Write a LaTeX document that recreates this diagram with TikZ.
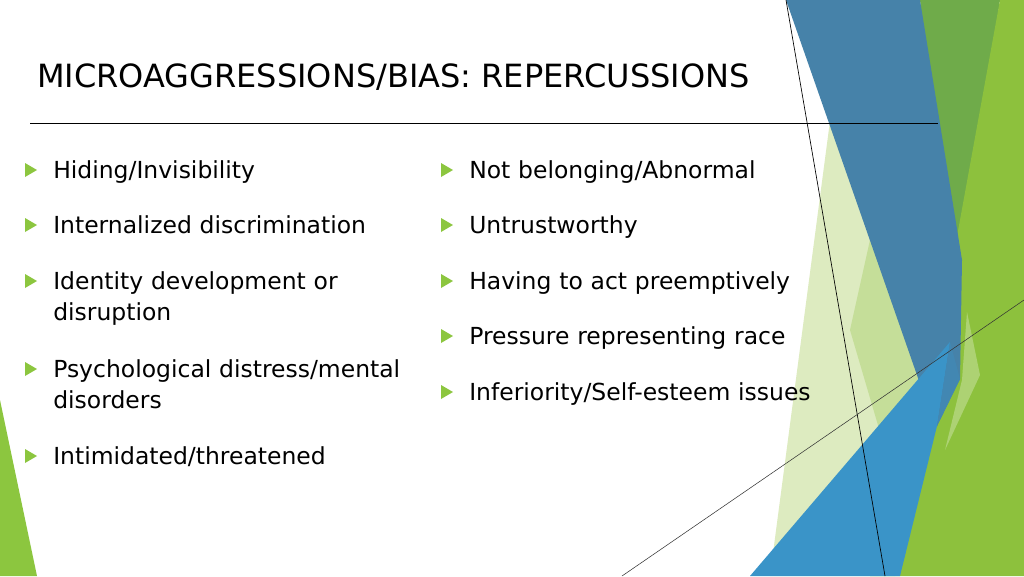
\documentclass[tikz,border=0pt]{standalone}
\usepackage{fontspec}
\setmainfont{DejaVu Sans}
\begin{document}
\begin{tikzpicture}[x=0.75pt,y=-0.75pt,
  item/.style={anchor=north west,inner sep=0pt,font=\fontsize{17.6}{23.5}\selectfont,align=left,text width=300pt},
  bul/.style={fill=bulgreen,draw=none}]
\definecolor{bulgreen}{HTML}{8CC63F}
\definecolor{dblue}{HTML}{4682A9}
\definecolor{lblue}{HTML}{3A94C8}
\definecolor{mgreen}{HTML}{6FAB4A}
\definecolor{bgreen}{HTML}{8DC13D}
\definecolor{pgreen}{HTML}{DDEBC0}
\useasboundingbox (0,0) rectangle (1024,576);
\fill[white] (0,0) rectangle (1024,576);
% decorative shapes
\fill[pgreen] (830,121) -- (930,360) -- (895,576) -- (770,576) -- cycle;
\fill[pgreen!70!bgreen] (870,240) -- (930,360) -- (900,500) -- (850,330) -- cycle;
\fill[mgreen] (920,0) -- (1000,0) -- (963,257) -- (950,300) -- cycle;
\fill[bgreen] (1000,0) -- (1024,0) -- (1024,576) -- (870,576) -- (940,330) -- cycle;
\fill[dblue] (786,0) -- (920,0) -- (962,260) -- (960,379) -- (937,426) -- (918,378) -- cycle;
\fill[lblue] (750,576) -- (950,342) -- (937,426) -- (900,576) -- cycle;
\fill[dblue!70!lblue] (950,342) -- (960,379) -- (937,426) -- cycle;
\fill[bgreen!60!white,opacity=0.7] (967,312) -- (980,375) -- (945,450) -- (962,380) -- cycle;
\fill[bulgreen] (0,400) -- (37,576) -- (0,576) -- cycle;
\coordinate (l1a) at (786,0); \coordinate (l1b) at (885,576);
\coordinate (l2a) at (622,576); \coordinate (l2b) at (1024,300);
\draw[black,line width=0.5pt] (l1a) -- (l1b);
\draw[black!80,line width=0.4pt] (l2a) -- (l2b);
% title
\node[anchor=base west,inner sep=0pt,font=\fontsize{24}{30}\selectfont] (title) at (37,87) {MICROAGGRESSIONS/BIAS: REPERCUSSIONS};
\coordinate (r1) at (30,123); \coordinate (r2) at (938,123);
\draw[line width=0.6pt] (r1) -- (r2);
% bullets
\foreach \x/\y/\n in {25/170/a,25/225/b,25/281/c,25/369/d,25/456/e,441/170/f,441/225/g,441/281/h,441/336/i,441/392/j}
  \fill[bul] (\x,\y-7) -- (\x+12,\y) -- (\x,\y+7) -- cycle;
\node[item] (a) at (53,160) {Hiding/Invisibility};
\node[item] (b) at (53,215) {Internalized discrimination};
\node[item] (c) at (53,271) {Identity development or\\disruption};
\node[item] (d) at (53,359) {Psychological distress/mental\\disorders};
\node[item] (e) at (53,446) {Intimidated/threatened};
\node[item] (f) at (469,160) {Not belonging/Abnormal};
\node[item] (g) at (469,215) {Untrustworthy};
\node[item] (h) at (469,271) {Having to act preemptively};
\node[item] (i) at (469,326) {Pressure representing race};
\node[item] (j) at (469,382) {Inferiority/Self-esteem issues};
\end{tikzpicture}
\end{document}
